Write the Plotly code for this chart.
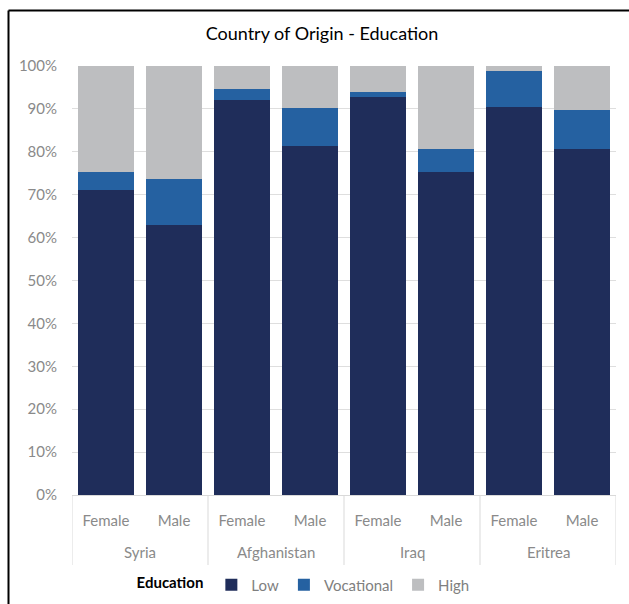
import plotly.graph_objects as go

countries = ["Syria", "Syria", "Afghanistan", "Afghanistan", "Iraq", "Iraq", "Eritrea", "Eritrea"]
genders = ["Female", "Male", "Female", "Male", "Female", "Male", "Female", "Male"]
low = [0.71, 0.63, 0.921, 0.814, 0.928, 0.752, 0.904, 0.806]
vocational = [0.044, 0.107, 0.025, 0.088, 0.011, 0.054, 0.084, 0.091]
high = [0.246, 0.263, 0.054, 0.098, 0.061, 0.194, 0.012, 0.103]

series = [("Low", low, "#1f2d5a"), ("Vocational", vocational, "#2561a1"), ("High", high, "#bdbec0")]

positions = list(range(len(genders)))
FONT = "Lato, Open Sans, sans-serif"

fig = go.Figure()
for name, vals, col in series:
    fig.add_trace(go.Bar(
        x=positions, y=vals, name=name,
        marker=dict(color=col, line=dict(width=0)),
    ))

fig.update_layout(
    barmode="stack",
    bargap=0.19,
    width=629, height=604,
    margin=dict(l=72, r=13, t=66, b=109, autoexpand=False),
    paper_bgcolor="white", plot_bgcolor="white",
    font=dict(family=FONT, color="#808080", size=15),
    title=dict(text="Country of Origin - Education", x=322 / 629, xanchor="center",
               y=1 - 34 / 604, yanchor="middle",
               font=dict(size=18, color="#000000", family=FONT)),
    legend=dict(orientation="h", x=0.115, xanchor="left", y=-0.21, yanchor="middle",
                title=dict(text="<b>Education</b>", font=dict(color="#000000", size=15)),
                font=dict(color="#7f7f7f", size=15), traceorder="normal",
                itemwidth=30),
    showlegend=True,
)
fig.update_yaxes(range=[0, 1], dtick=0.1, tickformat=".0%", showgrid=True,
                 gridcolor="#dedede", gridwidth=1, zeroline=False, automargin=False,
                 tickfont=dict(color="#8a8a8a", size=15), ticks="", ticklabelstandoff=14)
fig.update_xaxes(range=[-0.5, len(genders) - 0.5], tickvals=positions, ticktext=genders,
                 showline=True, linecolor="#d9d9d9", showgrid=False, zeroline=False,
                 automargin=False, ticks="", ticklabelstandoff=12,
                 tickfont=dict(color="#8a8a8a", size=15))

# group labels and dividers
groups = []
for i, c in enumerate(countries):
    if not groups or groups[-1][0] != c:
        groups.append([c, i, i])
    else:
        groups[-1][2] = i
div_bottom = -(565 - 495) / 429
for c, s, e in groups:
    fig.add_annotation(x=(s + e) / 2, y=-(552 - 495) / 429, xref="x", yref="paper",
                       text=c, showarrow=False, yanchor="middle",
                       font=dict(color="#8a8a8a", size=15, family=FONT))
    fig.add_shape(type="line", xref="x", yref="paper", x0=s - 0.5, x1=s - 0.5,
                  y0=0, y1=div_bottom, line=dict(color="#d9d9d9", width=1))
fig.add_shape(type="line", xref="x", yref="paper", x0=len(genders) - 0.5, x1=len(genders) - 0.5,
              y0=0, y1=div_bottom, line=dict(color="#d9d9d9", width=1))

fig.add_shape(type="line", xref="paper", yref="paper",
              x0=(8.5 - 72) / 544, x1=(8.5 - 72) / 544, y0=(495 - 10.5) / 429, y1=-0.3,
              line=dict(color="black", width=2))
fig.add_shape(type="line", xref="paper", yref="paper",
              x0=(8.5 - 72) / 544, x1=1.1, y0=(495 - 10.5) / 429, y1=(495 - 10.5) / 429,
              line=dict(color="black", width=2))

fig.write_html("out.html")
